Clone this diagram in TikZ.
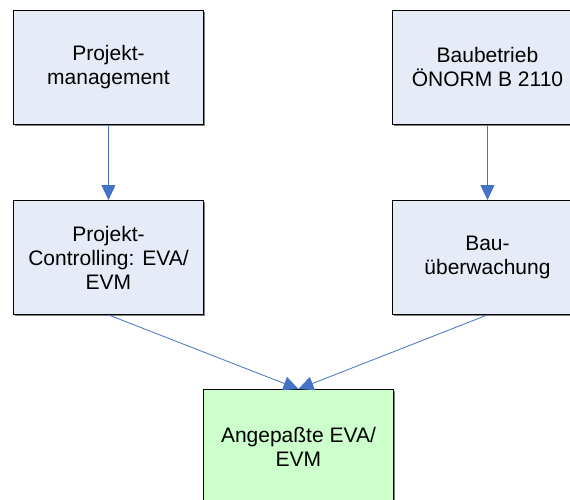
\documentclass[tikz,border=0pt]{standalone}
\usepackage{fontspec}
\setmainfont{Liberation Sans}
\usetikzlibrary{arrows.meta}
\definecolor{boxblue}{HTML}{E6ECF7}
\definecolor{boxgreen}{HTML}{CCFFCC}
\definecolor{linkblue}{HTML}{4472C4}
\definecolor{shadowgray}{HTML}{808080}
\tikzset{
  stagebox/.style={draw=black, line width=0.9pt, fill=boxblue, rectangle, anchor=north west,
    minimum width=190pt, minimum height=114pt, inner sep=0pt, align=center,
    font=\fontsize{21}{24}\selectfont,
    append after command={}},
  resultbox/.style={stagebox, fill=boxgreen},
  link/.style={draw=linkblue, line width=0.8pt, -{Triangle[width=14pt,length=15pt]}},
}
\begin{document}
\begin{tikzpicture}[x=1pt,y=-1pt]
\useasboundingbox (0,0) rectangle (570,499);
\clip (0,0) rectangle (570,499);
% shadows
\foreach \x/\y in {13/10, 392/10, 13/200, 392/200, 203/389}{
  \fill[shadowgray] (\x+1.5,\y+1.5) rectangle (\x+191.5,\y+115.5);
}
\node[stagebox] (pm) at (13,10) {Projekt-\\management};
\node[stagebox] (bb) at (392,10) {Baubetrieb\\ÖNORM B 2110};
\node[stagebox] (pc) at (13,200) {Projekt-\\Controlling: EVA/\\EVM};
\node[stagebox] (bu) at (392,200) {Bau-\\überwachung};
\node[resultbox] (ae) at (203,389) {Angepaßte EVA/\\EVM};
\draw[link] (pm.south) -- (pc.north);
\draw[link] (bb.south) -- (bu.north);
\draw[link] (pc.south) -- (ae.north);
\draw[link] (bu.south) -- (ae.north);
\end{tikzpicture}
\end{document}
